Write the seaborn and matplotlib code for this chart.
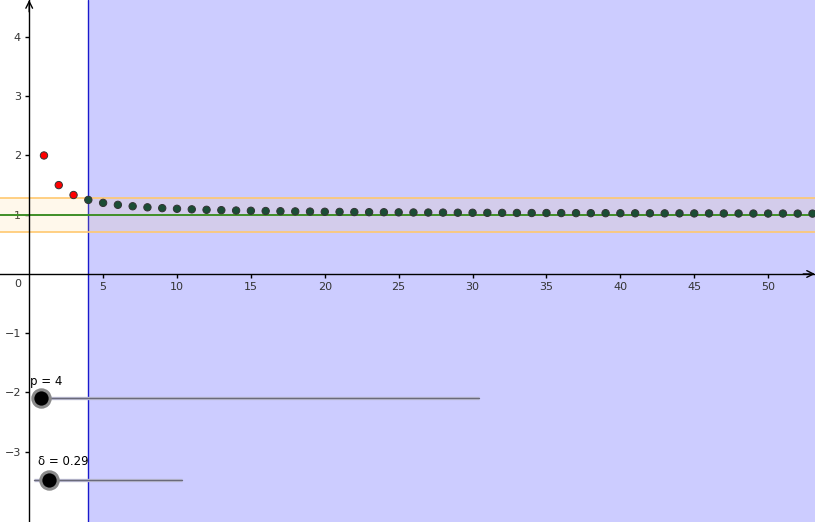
import matplotlib
matplotlib.use("Agg")
import matplotlib.pyplot as plt
import seaborn as sns
import pandas as pd

# ---- data ----
n_values = list(range(1, 54))
a_values = [2.0, 1.5, 1.333, 1.25, 1.2, 1.167, 1.143, 1.125, 1.111, 1.1,
            1.091, 1.083, 1.077, 1.071, 1.067, 1.0625, 1.059, 1.056, 1.053, 1.05,
            1.048, 1.045, 1.043, 1.042, 1.04, 1.038, 1.037, 1.036, 1.034, 1.033,
            1.032, 1.031, 1.030, 1.029, 1.029, 1.028, 1.027, 1.026, 1.026, 1.025,
            1.024, 1.024, 1.023, 1.023, 1.022, 1.022, 1.021, 1.021, 1.020, 1.020,
            1.020, 1.019, 1.019]
limit_L = 1.0
p_value = 4
delta_value = 0.29
x_ticks = [5, 10, 15, 20, 25, 30, 35, 40, 45, 50]
y_ticks = [-3, -2, -1, 1, 2, 3, 4]

sns.set_theme(style="white")
plt.rcParams['font.family'] = ['DejaVu Sans']

df = pd.DataFrame({"n": n_values, "a": a_values})
df["part"] = ["before" if n < p_value else "after" for n in n_values]

fig = plt.figure(figsize=(8.15, 5.22), dpi=100)
ax = fig.add_axes([0, 0, 1, 1])
xmin, xmax = -1.976, 53.17
ymin, ymax = -4.186, 4.624
ax.set_xlim(xmin, xmax)
ax.set_ylim(ymin, ymax)
ax.set_facecolor("white")

# shaded region n >= p
ax.axvspan(p_value, xmax, color="#ccccff", zorder=0, lw=0)
ax.axvline(p_value, color="#1a1acc", lw=1.0, zorder=1)

# epsilon band
ax.axhspan(limit_L - delta_value, limit_L + delta_value, color="#ffd27a", alpha=0.15, lw=0, zorder=1)
ax.axhline(limit_L + delta_value, color="#ffc870", lw=1.2, zorder=2)
ax.axhline(limit_L - delta_value, color="#ffc870", lw=1.2, zorder=2)
ax.axhline(limit_L, color="#3f8f27", lw=1.4, zorder=2)

# axes through origin
for s in ["top", "right"]:
    ax.spines[s].set_visible(False)
ax.spines["left"].set_position(("data", 0))
ax.spines["bottom"].set_position(("data", 0))
for s in ["left", "bottom"]:
    ax.spines[s].set_color("black")
    ax.spines[s].set_linewidth(1.0)
    ax.spines[s].set_zorder(3)
ax.set_xticks(x_ticks)
ax.set_yticks(y_ticks)
ax.tick_params(axis="both", direction="out", length=3, width=1, color="black",
               labelsize=8, labelcolor="#333333", pad=3, bottom=True, left=True)
ax.set_xlabel("")
ax.set_ylabel("")
ax.text(-0.76, -0.17, "0", fontsize=8, color="#333333", ha="center", va="center")

# arrow heads
ax.annotate("", xy=(xmax, 0), xytext=(xmax - 0.8, 0), annotation_clip=False,
            arrowprops=dict(arrowstyle="->", color="black", lw=1, shrinkA=0, shrinkB=0))
ax.annotate("", xy=(0, ymax), xytext=(0, ymax - 0.2), annotation_clip=False,
            arrowprops=dict(arrowstyle="->", color="black", lw=1, shrinkA=0, shrinkB=0))

# sequence points
sns.scatterplot(data=df, x="n", y="a", hue="part",
                palette={"before": "#ff0000", "after": "#1b4d35"},
                s=28, edgecolor="#333333", linewidth=0.7, legend=False,
                ax=ax, zorder=5, clip_on=True)
ax.set_xlabel("")
ax.set_ylabel("")

# sliders
ax.plot([0.8, 30.43], [-2.10, -2.10], color="#c0c0d8", lw=2.4, zorder=4, solid_capstyle="butt")
ax.plot([0.8, 30.43], [-2.10, -2.10], color="#6a6a7a", lw=1.0, zorder=4)
ax.plot([0.8], [-2.10], marker="o", ms=12.5, mfc="black", mec="#8a8a8a", mew=2.2, zorder=6)
ax.text(0.05, -1.81, f"p = {p_value}", fontsize=8.5, color="black", ha="left", va="center")

ax.plot([0.32, 10.34], [-3.48, -3.48], color="#c0c0d8", lw=2.4, zorder=4, solid_capstyle="butt")
ax.plot([0.32, 10.34], [-3.48, -3.48], color="#6a6a7a", lw=1.0, zorder=4)
ax.plot([1.36], [-3.48], marker="o", ms=12.5, mfc="black", mec="#8a8a8a", mew=2.2, zorder=6)
ax.text(0.6, -3.17, f"δ = {delta_value}", fontsize=8.5, color="black", ha="left", va="center")

fig.savefig("out.png", dpi=100)
